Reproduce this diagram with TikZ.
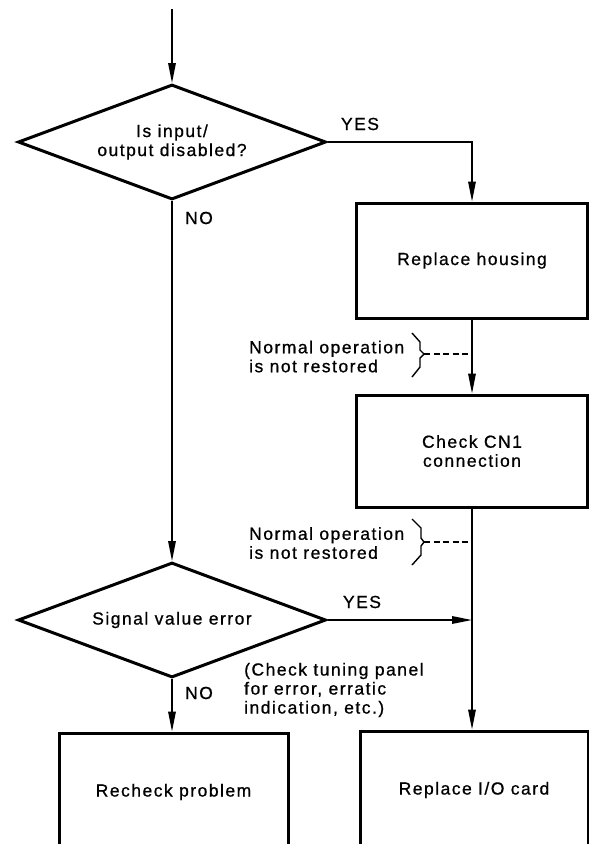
\documentclass[tikz,border=0pt]{standalone}
\usepackage{fontspec}
\setmainfont{Liberation Sans}[LetterSpace=8.5,FakeBold=0.8]
\usetikzlibrary{shapes.geometric,arrows.meta}
\begin{document}
\begin{tikzpicture}[x=1pt,y=-1pt,
  every node/.style={font=\fontsize{17.5}{19}\selectfont},
  dec/.style={diamond, draw, line width=3pt, aspect=2.68, inner sep=0pt,
    minimum width=308pt, minimum height=115pt, align=center},
  box/.style={rectangle, draw, line width=3pt, minimum width=231pt, align=center},
  conn/.style={line width=1.5pt},
  arr/.style={conn, -{Triangle[length=20pt,width=7.5pt]}},
  lbl/.style={inner sep=0pt},
  note/.style={align=left, inner sep=0pt, anchor=west},
  bracepath/.style={line width=1.4pt, line join=round},
  dline/.style={line width=1.3pt, dash pattern=on 6pt off 3.5pt}
]
\useasboundingbox (0,0) rectangle (589,844);

% decisions
\node[dec] (d1) at (172,142) {Is input/\\output disabled?};
\node[dec] (d2) at (172,620) {Signal value error};

% boxes
\node[box, minimum height=115pt] (b1) at (472,260.5) {Replace housing};
\node[box, minimum height=112pt] (b2) at (472,451) {Check CN1\\connection};
\node[box, minimum width=229pt, minimum height=118pt] (b3) at (173.5,792) {Recheck problem};
\node[box, minimum width=228pt, minimum height=118pt] (b4) at (474,790) {Replace I/O card};

% connectors
\coordinate (start) at (172,9);
\draw[arr] (start) -- (d1.north);
\draw[arr] (d1.east) -| (b1.north);
\node[lbl] (yes1) at (360,124) {YES};
\draw[arr] (d1.south) -- (d2.north);
\node[lbl] (no1) at (199,218) {NO};
\draw[arr] (b1.south) -- (b2.north);
\draw[arr] (b2.south) -- (b2.south |- b4.north);
\coordinate (j) at (b2.south |- d2.east);
\draw[arr] (d2.east) -- (j);
\node[lbl] (yes2) at (362,602) {YES};
\draw[arr] (d2.south) -- (d2.south |- b3.north);
\node[lbl] (no2) at (199,693) {NO};
\node[note] (t3) at (244,690) {(Check tuning panel\\for error, erratic\\indication, etc.)};

% brace notes
\node[note] (n1) at (249,356.5) {Normal operation\\is not restored};
\coordinate (br1) at (424,354);
\draw[bracepath] (412,333) -- (420,342) -- (420,350) -- (br1) -- (420,358) -- (420,367) -- (412,377);
\draw[dline] (br1) -- (br1 -| b1.south);

\node[note] (n2) at (249,543) {Normal operation\\is not restored};
\coordinate (br2) at (424,542);
\draw[bracepath] (412,519) -- (421,528) -- (421,538) -- (br2) -- (421,546) -- (421,555) -- (412,565);
\draw[dline] (br2) -- (br2 -| b2.south);
\end{tikzpicture}
\end{document}
